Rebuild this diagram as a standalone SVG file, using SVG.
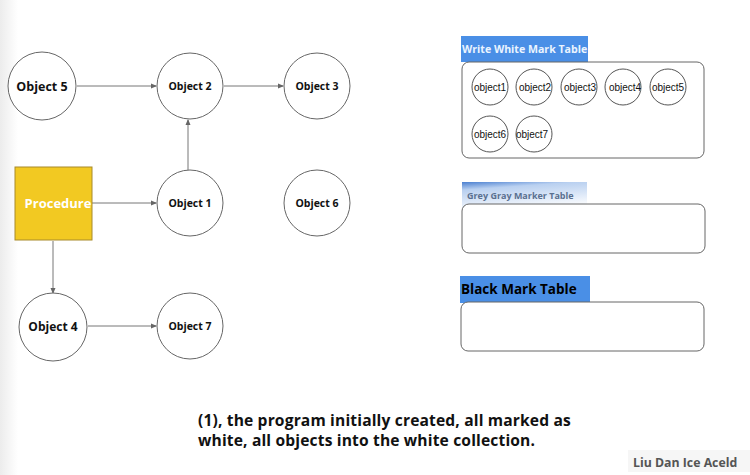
<svg xmlns="http://www.w3.org/2000/svg" width="750" height="475" viewBox="0 0 750 475">
<defs>
<style>
.node{fill:#fff;stroke:#666;stroke-width:1}
.lbl{font-family:"Open Sans","Noto Sans",sans-serif;font-weight:bold;fill:#111;text-anchor:middle}
.edge{stroke:#777;stroke-width:1;fill:none;marker-end:url(#ah)}
.sm{fill:#fff;stroke:#555;stroke-width:1}
.smt{font-family:"Liberation Sans",Arial,sans-serif;font-size:10px;fill:#111;text-anchor:middle}
.box{fill:#fff;stroke:#666;stroke-width:1}
.cap{font-family:"Open Sans","Noto Sans",sans-serif;font-weight:bold;font-size:15.6px;letter-spacing:0.15px;fill:#111}
</style>
<marker id="ah" markerWidth="6" markerHeight="6" refX="5" refY="3" orient="auto" markerUnits="userSpaceOnUse">
<path d="M0,0.5 L6,3 L0,5.5 Z" fill="#666"/>
</marker>
<linearGradient id="leftg" x1="0" y1="0" x2="1" y2="0">
<stop offset="0" stop-color="#ececec"/>
<stop offset="1" stop-color="#ffffff"/>
</linearGradient>
<linearGradient id="greyg" x1="0" y1="0" x2="0.3" y2="1">
<stop offset="0" stop-color="#4a7fd0"/>
<stop offset="0.25" stop-color="#b9d0f0"/>
<stop offset="1" stop-color="#ffffff"/>
</linearGradient>
</defs>
<rect x="0" y="0" width="750" height="475" fill="#fff"/>
<rect x="0" y="0" width="18" height="475" fill="url(#leftg)"/>

<g id="connectors">
<line class="edge" x1="77" y1="86" x2="156" y2="86"/>
<line class="edge" x1="224" y1="86" x2="283" y2="86"/>
<line class="edge" x1="188" y1="170" x2="188" y2="120"/>
<line class="edge" x1="92" y1="203" x2="156" y2="203"/>
<line class="edge" x1="53" y1="241" x2="53" y2="293"/>
<line class="edge" x1="88" y1="326" x2="156" y2="326"/>
</g>

<g id="object5"><circle class="node" cx="42" cy="86" r="34"/><text class="lbl" x="42" y="91" font-size="12.5">Object 5</text></g>
<g id="object2"><circle class="node" cx="190" cy="86" r="33"/><text class="lbl" x="190" y="90" font-size="10.5">Object 2</text></g>
<g id="object3"><circle class="node" cx="317" cy="86" r="33"/><text class="lbl" x="317" y="90" font-size="10.5">Object 3</text></g>
<g id="procedure"><rect x="15" y="167" width="77" height="73" fill="#f2c922" stroke="#a88a2a" stroke-width="1"/><text class="lbl" x="58" y="208" font-size="13" style="fill:#fff">Procedure</text></g>
<g id="object1"><circle class="node" cx="190" cy="203" r="33"/><text class="lbl" x="190" y="207" font-size="10.5">Object 1</text></g>
<g id="object6"><circle class="node" cx="317" cy="203" r="33"/><text class="lbl" x="317" y="207" font-size="10.5">Object 6</text></g>
<g id="object4"><circle class="node" cx="53" cy="327" r="34"/><text class="lbl" x="53" y="331" font-size="12">Object 4</text></g>
<g id="object7"><circle class="node" cx="190" cy="326" r="33"/><text class="lbl" x="190" y="330" font-size="10.5">Object 7</text></g>

<g id="white-table">
<rect x="461" y="36" width="127" height="26" fill="#4a8fe6"/>
<text x="462" y="53" font-family="'Open Sans','Noto Sans',sans-serif" font-weight="bold" font-size="10.6" fill="#eaf4ff">Write White Mark Table</text>
<rect class="box" x="462" y="62" width="242" height="96" rx="7"/>
<g id="w-object1"><circle class="sm" cx="490" cy="87" r="18"/><text class="smt" x="490" y="91">object1</text></g>
<g id="w-object2"><circle class="sm" cx="534" cy="87" r="18"/><text class="smt" x="535" y="91">object2</text></g>
<g id="w-object3"><circle class="sm" cx="579" cy="87" r="18"/><text class="smt" x="580" y="91">object3</text></g>
<g id="w-object4"><circle class="sm" cx="623" cy="87" r="18"/><text class="smt" x="625" y="91">object4</text></g>
<g id="w-object5"><circle class="sm" cx="668" cy="87" r="18"/><text class="smt" x="668" y="91">object5</text></g>
<g id="w-object6"><circle class="sm" cx="490" cy="134" r="18"/><text class="smt" x="490" y="138">object6</text></g>
<g id="w-object7"><circle class="sm" cx="534" cy="134" r="18"/><text class="smt" x="532" y="138">object7</text></g>
</g>

<g id="grey-table">
<path d="M462,182 L587,182 L587,204 L462,212 Z" fill="url(#greyg)"/>
<text x="467" y="199" font-family="'Open Sans','Noto Sans',sans-serif" font-weight="bold" font-size="9" fill="#5a7090">Grey Gray Marker Table</text>
<rect class="box" x="462" y="204" width="243" height="49" rx="7"/>
</g>

<g id="black-table">
<rect x="460" y="276" width="130" height="27" fill="#4a8fe6"/>
<text x="461" y="294" font-family="'Open Sans','Noto Sans',sans-serif" font-weight="bold" font-size="13.5" fill="#000">Black Mark Table</text>
<rect class="box" x="461" y="302" width="243" height="49" rx="7"/>
</g>

<g id="caption">
<text class="cap" x="198" y="426">(1), the program initially created, all marked as</text>
<text class="cap" x="198" y="446">white, all objects into the white collection.</text>
</g>
<g id="watermark">
<rect x="628" y="450" width="122" height="22" fill="#f6f6f6"/>
<text x="633" y="467" font-family="'Open Sans','Noto Sans',sans-serif" font-weight="bold" font-size="12.3" fill="#555">Liu Dan Ice Aceld</text>
</g>
</svg>
